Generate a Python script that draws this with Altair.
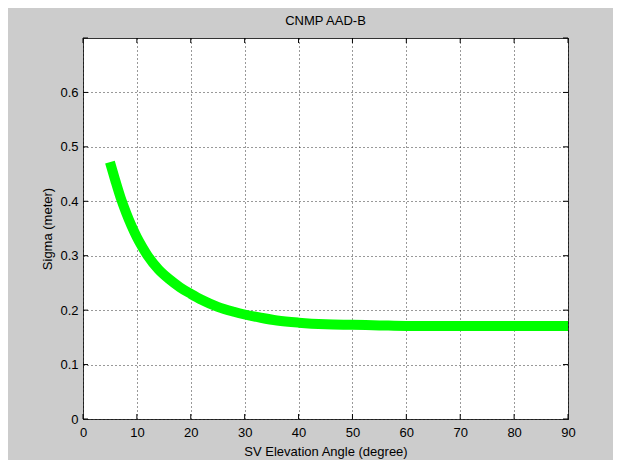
import altair as alt
import pandas as pd

# Curve values
elev = [5, 6, 7, 8, 9, 10, 11, 12, 14, 16, 18, 20, 22, 25, 28, 30, 33, 36, 40, 45, 50, 55, 60, 70, 80, 90]
sigma = [0.472, 0.438, 0.406, 0.379, 0.355, 0.334, 0.316, 0.300, 0.275, 0.257, 0.242, 0.230, 0.219, 0.206,
         0.197, 0.192, 0.186, 0.181, 0.177, 0.174, 0.173, 0.172, 0.171, 0.171, 0.171, 0.171]

x_ticks = [0, 10, 20, 30, 40, 50, 60, 70, 80, 90]
y_ticks = [0, 0.1, 0.2, 0.3, 0.4, 0.5, 0.6]
y_tick_marks = [0, 0.1, 0.2, 0.3, 0.4, 0.5, 0.6, 0.7]

W, H = 485, 381
FONT = "Liberation Sans"

df = pd.DataFrame({"elev": elev, "sigma": sigma})
dx = pd.DataFrame({"v": x_ticks})
dy = pd.DataFrame({"v": y_tick_marks})

xscale = alt.Scale(domain=[0, 90], nice=False, zero=False)
yscale = alt.Scale(domain=[0, 0.7], nice=False, zero=False)

xaxis = alt.Axis(values=x_ticks, grid=True, gridDash=[1, 3], gridColor="#000", gridOpacity=0.8,
                 ticks=False, tickSize=0, domain=False, labelPadding=7, labelFontSize=13,
                 labelFont=FONT, labelColor="#000", title="SV Elevation Angle (degree)",
                 titleFont=FONT, titleFontSize=13, titleFontWeight="normal", titleColor="#000",
                 titleX=W / 2, titleY=32, titleAlign="center", titleBaseline="middle",
                 labelFlush=False)
yaxis = alt.Axis(values=y_ticks, grid=True, gridDash=[1, 3], gridColor="#000", gridOpacity=0.8,
                 ticks=False, tickSize=0, domain=False, labelPadding=5, labelFontSize=13,
                 labelFont=FONT, labelColor="#000", format=".1~f", title="Sigma (meter)",
                 titleFont=FONT, titleFontSize=13, titleFontWeight="normal", titleColor="#000",
                 titleX=-36, titleY=H / 2, titleAlign="center", titleBaseline="middle",
                 titleAngle=270, labelFlush=False)

line = alt.Chart(df).mark_line(color="#00ff00", strokeWidth=10, strokeCap="butt",
                               interpolate="monotone", clip=False).encode(
    x=alt.X("elev:Q", scale=xscale, axis=xaxis),
    y=alt.Y("sigma:Q", scale=yscale, axis=yaxis),
)

tick_style = dict(color="#000", strokeWidth=1)
xt_bottom = alt.Chart(dx).mark_rule(**tick_style).encode(
    x=alt.X("v:Q", scale=xscale), y=alt.value(H), y2=alt.value(H - 5))
xt_top = alt.Chart(dx).mark_rule(**tick_style).encode(
    x=alt.X("v:Q", scale=xscale), y=alt.value(0), y2=alt.value(5))
yt_left = alt.Chart(dy).mark_rule(**tick_style).encode(
    y=alt.Y("v:Q", scale=yscale), x=alt.value(0), x2=alt.value(5))
yt_right = alt.Chart(dy).mark_rule(**tick_style).encode(
    y=alt.Y("v:Q", scale=yscale), x=alt.value(W), x2=alt.value(W - 5))

chart = alt.layer(line, xt_bottom, xt_top, yt_left, yt_right).properties(
    width=W, height=H,
    title=alt.TitleParams("CNMP AAD-B", font=FONT, fontSize=13, fontWeight="normal",
                          color="#000", anchor="middle", offset=10),
    background="#cccccc",
    autosize=alt.AutoSizeParams(type="none"),
    padding={"left": 75, "top": 30, "right": 45, "bottom": 41},
).configure_view(fill="white", stroke="#333", strokeWidth=1)

chart.save("out.html", embed_options={"renderer": "svg", "actions": False})
